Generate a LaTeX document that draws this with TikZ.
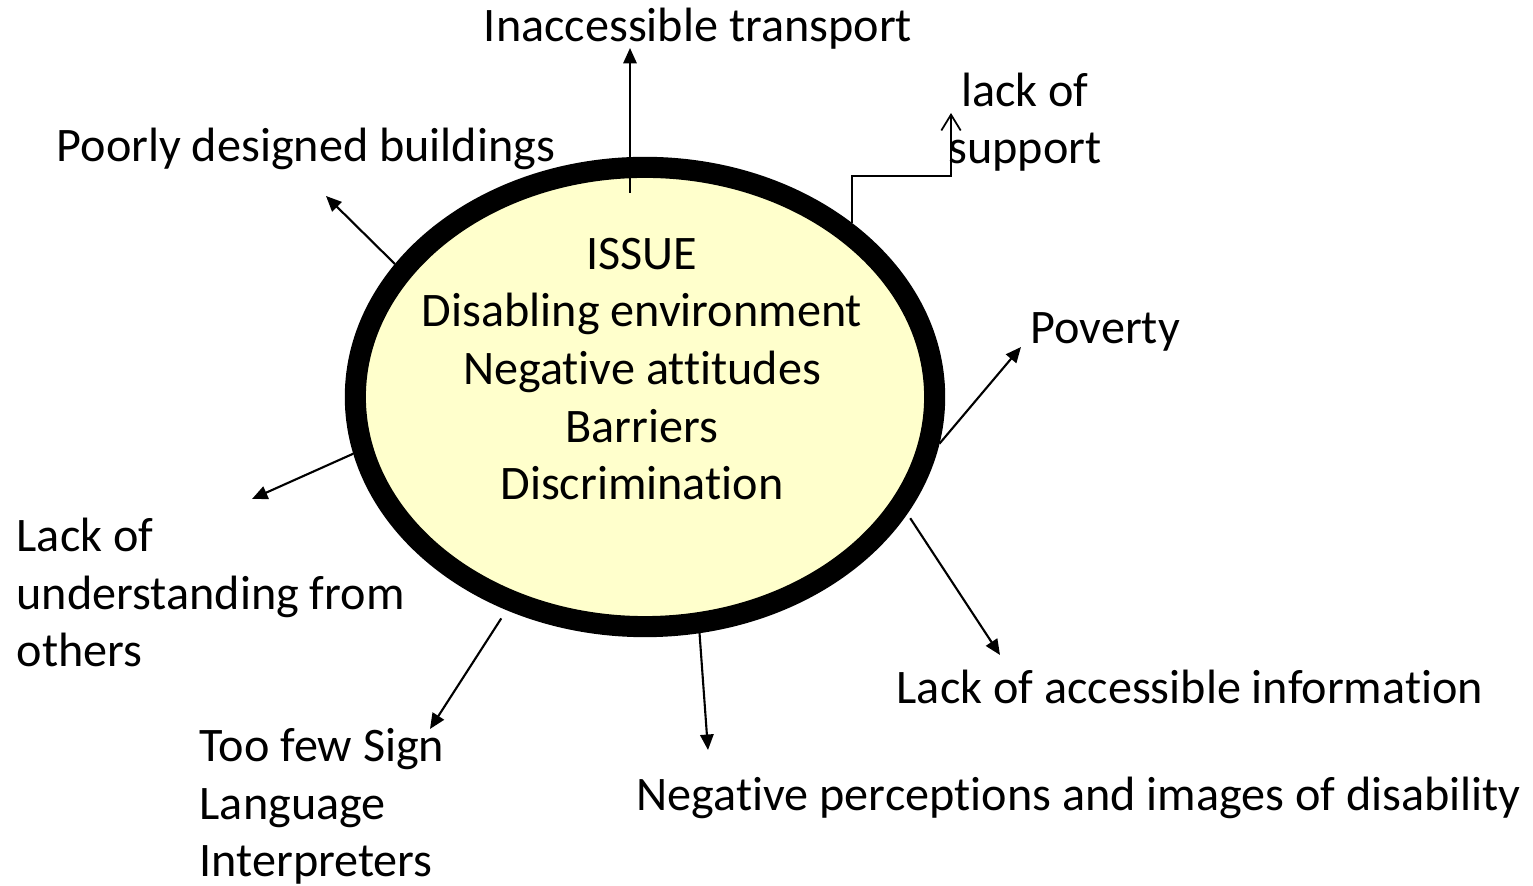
\documentclass[tikz,border=0pt]{standalone}
\usepackage{fontspec}
\setmainfont{Carlito}[Ligatures=NoCommon]
\usetikzlibrary{arrows.meta,shapes.geometric}
\definecolor{issuefill}{HTML}{FFFFCC}
\tikzset{
  issue/.style={ellipse,draw=black,fill=issuefill,line width=6pt,inner sep=0pt,minimum width=5.79cm,minimum height=4.59cm},
  lbl/.style={font=\fontsize{13.7}{16.4}\selectfont,inner sep=0pt},
  arr/.style={-{Triangle[length=4.4pt,width=3.8pt]},line width=0.6pt,draw=black},
  barb/.style={-{Straight Barb[length=4.5pt,width=5.5pt]},line width=0.5pt,draw=black},
}
\begin{document}
\begin{tikzpicture}[x=0.01cm,y=-0.01cm]
  \useasboundingbox (0,0) rectangle (1533,886);
  % the issue in the middle
  \node[issue] (issue) at (645,397) {};
  \node[lbl,anchor=base,align=center] (issuetext) at (642,500)
    {ISSUE\\Disabling environment\\Negative attitudes\\Barriers\\Discrimination};
  % labels round it (base = last line)
  \node[lbl,anchor=base] (transport) at (698,42) {Inaccessible transport};
  \node[lbl,anchor=base,align=center] (support) at (1025,164) {lack of\\support};
  \node[lbl,anchor=base west] (buildings) at (56,162) {Poorly designed buildings};
  \node[lbl,anchor=base west] (poverty) at (1030,344) {Poverty};
  \node[lbl,anchor=base west,align=left] (understanding) at (16,667) {Lack of\\understanding from\\others};
  \node[lbl,anchor=base west,align=left] (interpreters) at (199,877) {Too few Sign\\Language\\Interpreters};
  \node[lbl,anchor=base west] (perceptions) at (636,811) {Negative perceptions and images of disability};
  \node[lbl,anchor=base west] (information) at (896,704) {Lack of accessible information};
  % arrow ends
  \coordinate (topstart) at (630,193);
  \coordinate (transporttip) at (630,48);
  \coordinate (supportbend) at (951,176);
  \coordinate (supporttip) at (951,113);
  \coordinate (buildingstip) at (326,196);
  \coordinate (povertytip) at (1021,347);
  \coordinate (understandingtip) at (252,499);
  \coordinate (interpreterstip) at (430,729);
  \coordinate (perceptionstip) at (708,750);
  \coordinate (informationtip) at (1000,655);
  % arrows
  \draw[arr] (topstart) -- (transporttip);
  \draw[barb] (issue.40.6) |- (supportbend) -- (supporttip);
  \draw[arr] (issue.152.7) -- (buildingstip);
  \draw[arr] (issue.351.3) -- (povertytip);
  \draw[arr] (issue.191) -- (understandingtip);
  \draw[arr,shorten <=2.8pt] (issue.237.6) -- (interpreterstip);
  \draw[arr] (issue.283.6) -- (perceptionstip);
  \draw[arr,shorten <=1.5pt] (issue.336.4) -- (informationtip);
\end{tikzpicture}
\end{document}
